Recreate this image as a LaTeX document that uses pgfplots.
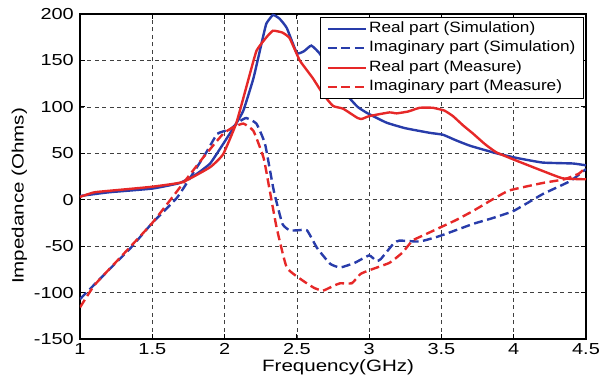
\documentclass[border=0pt]{standalone}
\usepackage{pgfplots}
\pgfplotsset{compat=1.18}
\usepackage{fontspec}
\setmainfont{Liberation Sans}
\newfontfamily\tickfont{Liberation Sans}[FakeStretch=1.25]
\newfontfamily\legfont{Liberation Sans}[FakeStretch=1.15]
\definecolor{sblue}{RGB}{40,60,170}
\definecolor{sred}{RGB}{230,40,40}
\begin{document}
\begin{tikzpicture}[x=1bp,y=1bp]
\begin{axis}[
  scale only axis, width=506bp, height=325bp,
  xmin=1, xmax=4.5, ymin=-150, ymax=200,
  xtick={1,1.5,...,4.5}, ytick={-150,-100,...,200},
  xticklabels={1,1.5,2,2.5,3,3.5,4,4.5},
  /pgf/number format/assume math mode=true,
  tick label style={font=\fontsize{16}{18}\tickfont},
  yticklabel style={inner sep=1bp, xshift=-5bp},
  xticklabel style={inner sep=1bp, yshift=-3.5bp},
  xlabel={Frequency(GHz)}, ylabel={Impedance (Ohms)},
  xlabel style={font=\fontsize{16.5}{18}\tickfont, at={(axis description cs:0.51,-0.087)}, anchor=center, inner sep=1bp},
  ylabel style={font=\fontsize{16.5}{18}\tickfont, at={(axis description cs:-0.1196,0.44)}, anchor=center},
  grid=major, major grid style={dash pattern=on 4bp off 3.5bp, black!75, line width=0.7bp},
  tick align=inside, tick pos=both, major tick length=5bp,
  major tick style={black, line width=0.8bp},
  axis line style={line width=1.3bp},
  legend style={legend cell align=left, font=\fontsize{15}{16}\legfont, at={(0.996,0.991)}, anchor=north east, draw=black, fill=white, line width=1.1bp, inner xsep=6bp, inner ysep=1.5bp, row sep=0bp,
     nodes={inner ysep=2.5bp, inner xsep=2bp, text height=11bp, text depth=3.5bp}},
  legend image code/.code={\draw[#1, sharp plot, line width=2.4bp] (0bp,0bp) -- (38bp,0bp);},
  every axis plot/.append style={line width=2.4bp, smooth, tension=0.25},
]
\addplot[sblue] coordinates {
(1,4) (1.2,8) (1.5,12) (1.69,18) (1.8,27) (1.9,39) (1.99,60) (2.08,82) (2.13,96) (2.2,131) (2.27,178) (2.29,190) (2.335,199) (2.38,195) (2.43,185) (2.5,158) (2.55,160) (2.6,166) (2.66,157) (2.75,133) (2.85,112) (2.92,100) (2.99,93) (3.12,83) (3.25,77) (3.42,72) (3.51,70) (3.6,64) (3.7,58) (3.88,50) (4.02,45) (4.2,40) (4.41,39) (4.5,37)};
\addlegendentry{Real part (Simulation)}
\addplot[sblue, dash pattern=on 9bp off 4.5bp] coordinates {
(1,-107) (1.21,-74) (1.35,-52) (1.5,-25) (1.67,2) (1.78,28) (1.87,50) (1.95,71) (2.04,76) (2.1,84) (2.15,88) (2.22,82) (2.28,60) (2.34,10) (2.4,-26) (2.45,-33) (2.5,-33) (2.57,-33) (2.64,-52) (2.73,-69) (2.8,-73) (2.9,-68) (3.0,-60) (3.05,-66) (3.08,-64) (3.17,-47) (3.21,-44) (3.35,-45) (3.49,-39) (3.72,-26) (3.85,-20) (4.0,-12) (4.2,6) (4.39,20) (4.5,33)};
\addlegendentry{Imaginary part (Simulation)}
\addplot[sred] coordinates {
(1,3) (1.1,8) (1.3,11) (1.5,14) (1.71,19) (1.9,35) (1.99,49) (2.08,82) (2.15,121) (2.22,160) (2.29,175) (2.335,182) (2.4,180) (2.45,174) (2.52,150) (2.61,131) (2.68,114) (2.75,101) (2.82,98) (2.92,88) (2.95,87) (3.0,90) (3.14,94) (3.19,93) (3.27,95) (3.35,99) (3.44,99) (3.52,96) (3.58,90) (3.65,80) (3.72,71) (3.8,60) (3.88,51) (4.02,42) (4.2,31) (4.34,23) (4.5,22)};
\addlegendentry{Real part (Measure)}
\addplot[sred, dash pattern=on 9bp off 4.5bp] coordinates {
(1,-116) (1.1,-92) (1.28,-62) (1.5,-25) (1.71,17) (1.85,45) (1.99,71) (2.06,78) (2.13,82) (2.2,74) (2.27,45) (2.31,12) (2.36,-30) (2.43,-73) (2.54,-87) (2.62,-95) (2.68,-98) (2.75,-93) (2.8,-90) (2.88,-90) (2.94,-80) (3.0,-76) (3.14,-68) (3.23,-57) (3.3,-44) (3.38,-38) (3.49,-30) (3.6,-22) (3.72,-12) (3.85,0) (3.97,10) (4.2,18) (4.35,22) (4.45,28) (4.5,35)};
\addlegendentry{Imaginary part (Measure)}
\end{axis}
\path (current axis.south west) ++(-80bp,-42bp) coordinate (bbA);
\path (current axis.north east) ++(15bp,14bp) coordinate (bbB);
\useasboundingbox (bbA) rectangle (bbB);
\end{tikzpicture}
\end{document}
